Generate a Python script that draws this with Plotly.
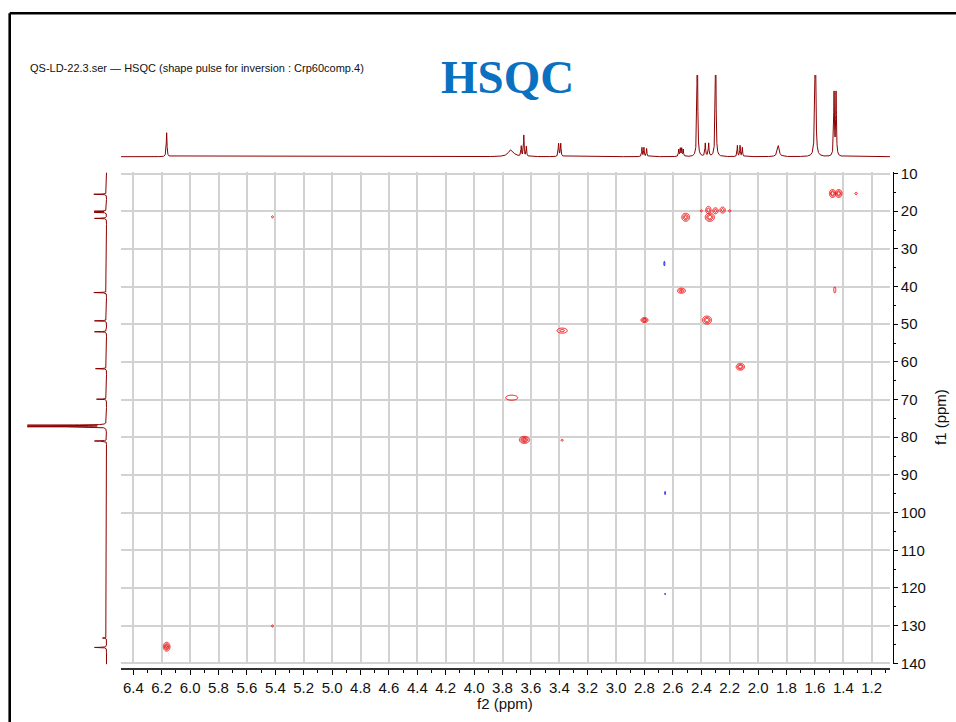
import numpy as np
import plotly.graph_objects as go

# ---------------- data ----------------
# 1H projection (f2): shift (ppm), height (px-like units), half width (ppm)
h_shift = [6.165, 3.740, 3.668, 3.650, 3.632, 3.405, 3.390, 2.818, 2.804, 2.785,
           2.559, 2.548, 2.538, 2.527, 2.428, 2.372, 2.348, 2.299, 2.146, 2.127,
           2.111, 1.858, 1.597, 1.465, 1.451]
h_height = [24, 7, 10, 21, 10, 13, 13, 9, 9, 8,
            7, 8, 8, 7, 130, 13, 13, 130, 11, 11,
            9, 11, 130, 63, 63]
h_hwhm = [0.003, 0.022, 0.0025, 0.0025, 0.0025, 0.003, 0.003, 0.0025, 0.0025, 0.0025,
          0.0025, 0.0025, 0.0025, 0.0025, 0.003, 0.003, 0.003, 0.003, 0.0025, 0.0025,
          0.0025, 0.008, 0.004, 0.003, 0.003]

# 13C projection (f1): shift (ppm), height, half width (ppm)
c_shift = [15.5, 20.0, 20.3, 21.9, 41.6, 49.1, 52.0, 61.8, 69.9, 76.8, 77.2, 81.0, 133.3, 135.8]
c_height = [12.7, 12, 12, 12, 12.7, 12, 12, 11, 10, 78, 78, 12, 4, 12]
c_hwhm = [0.05] * len(c_shift)

# HSQC cross peaks (positive phase)
pos_f2 = [6.165, 5.42, 5.42, 3.735, 3.646, 3.38, 3.38, 2.80, 2.54, 2.51, 2.40,
          2.35, 2.34, 2.30, 2.25, 2.20, 2.36, 2.125, 1.475, 1.432, 1.31, 1.46]
pos_f1 = [135.6, 21.5, 130.1, 69.5, 80.7, 51.7, 80.8, 48.9, 41.1, 21.6, 19.9,
          19.7, 21.6, 19.9, 19.7, 19.9, 48.9, 61.3, 15.3, 15.3, 15.3, 40.9]
pos_amp = [1.0, 0.2, 0.2, 0.38, 1.0, 0.5, 0.2, 0.9, 0.7, 0.8, 0.2,
           0.6, 0.9, 0.55, 0.55, 0.2, 0.9, 0.9, 0.9, 0.9, 0.22, 0.3]
pos_w2 = [0.012, 0.009, 0.009, 0.031, 0.018, 0.023, 0.009, 0.013, 0.016, 0.015, 0.009,
          0.011, 0.017, 0.0116, 0.0116, 0.009, 0.017, 0.0155, 0.012, 0.012, 0.009, 0.006]
pos_w1 = [0.6, 0.35, 0.35, 0.49, 0.48, 0.43, 0.35, 0.35, 0.38, 0.58, 0.35,
          0.58, 0.58, 0.49, 0.49, 0.35, 0.56, 0.47, 0.56, 0.56, 0.35, 0.68]

# HSQC cross peaks (negative phase)
neg_f2 = [2.660, 2.655, 2.655]
neg_f1 = [33.9, 94.8, 121.6]
neg_amp = [0.3, 0.25, 0.2]
neg_w2 = [0.003, 0.0035, 0.003]
neg_w1 = [0.5, 0.4, 0.25]

title_text = "QS-LD-22.3.ser \u2014 HSQC (shape pulse for inversion : Crp60comp.4)"

# ---------------- geometry helpers ----------------
W, H = 956, 722
def px(x):
    return x / W
def py(y):
    return 1 - y / H

x_dom = [px(121), px(890)]
y_dom = [py(664.4), py(172.4)]
x_range = [6.4866, 1.0711]
y_range = [140.3, 9.7]

fig = go.Figure()

# 1H projection
xs = np.arange(1.0711, 6.4866, 0.0004)
spec_h = np.zeros_like(xs)
for c, h, w in zip(h_shift, h_height, h_hwhm):
    spec_h += h / (1 + ((xs - c) / w) ** 2)
fig.add_trace(go.Scatter(x=xs, y=spec_h, mode="lines", xaxis="x2", yaxis="y2",
                         line=dict(color="#8b0000", width=1), hoverinfo="skip", showlegend=False))

# 13C projection
ys = np.arange(9.7, 140.3, 0.01)
spec_c = np.zeros_like(ys)
for c, h, w in zip(c_shift, c_height, c_hwhm):
    spec_c += h / (1 + ((ys - c) / w) ** 2)
fig.add_trace(go.Scatter(x=spec_c, y=ys, mode="lines", xaxis="x3", yaxis="y3",
                         line=dict(color="#8b0000", width=1), hoverinfo="skip", showlegend=False))

# 2D contours
def add_peak(cx, cy, a, sx, sy, cscale):
    gx = np.linspace(cx - 3.5 * sx, cx + 3.5 * sx, 61)
    gy = np.linspace(cy - 3.5 * sy, cy + 3.5 * sy, 61)
    GX, GY = np.meshgrid(gx, gy)
    Z = a * np.exp(-0.5 * (((GX - cx) / sx) ** 2 + ((GY - cy) / sy) ** 2))
    fig.add_trace(go.Contour(x=gx, y=gy, z=Z, xaxis="x", yaxis="y",
                             contours=dict(coloring="lines", start=0.15, end=1.0, size=0.25),
                             line=dict(width=1), colorscale=cscale, zmin=0, zmax=1,
                             showscale=False, hoverinfo="skip"))

red = [[0, "#ff0000"], [1, "#d00000"]]
blue = [[0, "#0000ff"], [1, "#0000c0"]]
for cx, cy, a, sx, sy in zip(pos_f2, pos_f1, pos_amp, pos_w2, pos_w1):
    add_peak(cx, cy, a, sx, sy, red)
for cx, cy, a, sx, sy in zip(neg_f2, neg_f1, neg_amp, neg_w2, neg_w1):
    add_peak(cx, cy, a, sx, sy, blue)

tickfont = dict(family="Liberation Sans, Arial, sans-serif", size=15, color="#111111")
grid = "#d2d2d2"

fig.update_layout(
    width=W, height=H, autosize=False,
    margin=dict(l=0, r=0, t=0, b=0, pad=0, autoexpand=False),
    paper_bgcolor="white", plot_bgcolor="white",
    showlegend=False,
    xaxis=dict(domain=x_dom, range=x_range, anchor="free", position=py(669), automargin=False,
               tick0=0, dtick=0.2, tickformat=".1f", ticks="outside", ticklen=5,
               tickcolor="black", tickwidth=1,
               minor=dict(dtick=0.1, ticks="outside", ticklen=3, tickcolor="black", showgrid=False),
               showgrid=True, gridcolor=grid, gridwidth=1.5,
               showline=True, linecolor="#333333", linewidth=1.5, zeroline=False,
               tickfont=tickfont),
    yaxis=dict(domain=y_dom, range=y_range, anchor="free", position=px(892.7), side="right",
               automargin=False,
               tick0=0, dtick=10, ticks="outside", ticklen=4, tickcolor="black", tickwidth=1,
               minor=dict(dtick=5, ticks="outside", ticklen=2.5, tickcolor="black", showgrid=False),
               showgrid=True, gridcolor=grid, gridwidth=1.5,
               showline=True, linecolor="black", linewidth=1.3, zeroline=False,
               tickfont=tickfont),
    xaxis2=dict(domain=x_dom, matches="x", anchor="y2", visible=False, showgrid=False,
                automargin=False),
    yaxis2=dict(domain=[py(159), py(75)], range=[-2.3, 81.7], anchor="x2", visible=False,
                showgrid=False, automargin=False),
    xaxis3=dict(domain=[px(25), px(108)], range=[81.5, -1.5], anchor="y3", visible=False,
                showgrid=False, automargin=False),
    yaxis3=dict(domain=y_dom, matches="y", anchor="x3", visible=False, showgrid=False,
                automargin=False),
)

fig.add_annotation(text=title_text, xref="paper", yref="paper", x=px(28), y=py(68),
                   xanchor="left", yanchor="middle", showarrow=False,
                   font=dict(family="Liberation Sans, Arial, sans-serif", size=11, color="#111111"))
fig.add_annotation(text="<b>HSQC</b>", xref="paper", yref="paper", x=px(507.5), y=py(77),
                   xanchor="center", yanchor="middle", showarrow=False,
                   font=dict(family="Liberation Serif, Times New Roman, serif", size=47, color="#0a70c0"))
fig.add_annotation(text="f2 (ppm)", xref="paper", yref="paper", x=px(505), y=py(703),
                   xanchor="center", yanchor="middle", showarrow=False, font=tickfont)
fig.add_annotation(text="f1 (ppm)", xref="paper", yref="paper", x=px(940), y=py(417),
                   xanchor="center", yanchor="middle", showarrow=False, textangle=-90,
                   font=tickfont)

# outer frame (top and left edges)
fig.add_shape(type="line", xref="paper", yref="paper", x0=px(9.7), x1=1.0, y0=py(13.3), y1=py(13.3),
              line=dict(color="black", width=2.6))
fig.add_shape(type="line", xref="paper", yref="paper", x0=px(9.7), x1=px(9.7), y0=0, y1=py(13.3),
              line=dict(color="black", width=2.6))

fig.write_html("out.html", config={"displayModeBar": False},
               post_script="document.body.style.margin='0px';document.body.style.overflow='hidden';")
